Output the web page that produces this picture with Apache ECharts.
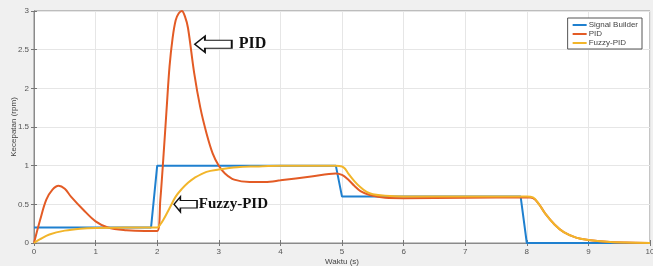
<!DOCTYPE html>
<html>
<head>
<meta charset="utf-8">
<script src="https://cdn.jsdelivr.net/npm/echarts@6/dist/echarts.min.js"></script>
<style>
html,body{margin:0;padding:0;background:#f0f0f0;}
#main{width:653px;height:266px;}
</style>
</head>
<body>
<div id="main"></div>
<script>
// Signal Builder (setpoint)
var sbT = [0, 1.9, 2.0, 4.9, 5.0, 7.9, 8.0, 10];
var sbY = [0.2, 0.2, 1, 1, 0.6, 0.6, 0, 0];

// PID
var pidT = [0, 0.1, 0.2, 0.3, 0.4, 0.5, 0.6, 0.8, 1.0, 1.2, 1.5, 1.8, 2.0, 2.05, 2.1, 2.15, 2.2, 2.25, 2.3, 2.35, 2.4, 2.45, 2.5, 2.6, 2.7, 2.8, 2.9, 3.0, 3.1, 3.25, 3.5, 3.75, 4.0, 4.5, 4.9, 5.0, 5.1, 5.2, 5.3, 5.45, 5.7, 6.0, 7.0, 8.0, 8.1, 8.2, 8.3, 8.45, 8.6, 8.8, 9.0, 9.3, 9.6, 10];
var pidY = [0, 0.3, 0.56, 0.69, 0.74, 0.7, 0.6, 0.43, 0.28, 0.2, 0.165, 0.155, 0.155, 0.55, 1.1, 1.7, 2.28, 2.65, 2.88, 2.97, 3.0, 2.93, 2.78, 2.2, 1.75, 1.42, 1.16, 1.0, 0.9, 0.82, 0.79, 0.79, 0.81, 0.86, 0.9, 0.88, 0.82, 0.74, 0.67, 0.62, 0.585, 0.58, 0.585, 0.59, 0.58, 0.5, 0.38, 0.24, 0.14, 0.07, 0.04, 0.015, 0.005, 0];

// Fuzzy-PID
var fzT = [0, 0.1, 0.25, 0.5, 0.75, 1.0, 1.5, 2.0, 2.05, 2.1, 2.2, 2.3, 2.4, 2.5, 2.6, 2.8, 3.0, 3.3, 3.6, 4.0, 4.9, 5.0, 5.05, 5.1, 5.2, 5.3, 5.4, 5.5, 5.7, 6.0, 7.0, 8.0, 8.1, 8.2, 8.3, 8.45, 8.6, 8.8, 9.0, 9.3, 9.6, 10];
var fzY = [0, 0.05, 0.11, 0.16, 0.185, 0.195, 0.2, 0.2, 0.24, 0.3, 0.45, 0.6, 0.7, 0.78, 0.84, 0.92, 0.95, 0.98, 0.99, 1.0, 1.0, 0.99, 0.96, 0.9, 0.8, 0.72, 0.66, 0.63, 0.61, 0.6, 0.6, 0.6, 0.59, 0.5, 0.38, 0.24, 0.14, 0.07, 0.04, 0.015, 0.005, 0];

var xTicks = [0, 1, 2, 3, 4, 5, 6, 7, 8, 9, 10];
var yTicks = [0, 0.5, 1, 1.5, 2, 2.5, 3];

function zip(t, y) {
    var out = [];
    for (var i = 0; i < t.length; i++) {
        out.push([t[i], y[i]]);
    }
    return out;
}

// hollow left arrow for the annotations
var arrowPath = 'path://M0,8 L11,0 L11,4 L40,4 L40,12 L11,12 L11,16 Z';

var myChart = echarts.init(document.getElementById('main'));

var tickStyle = {show: true, inside: true, length: 3, lineStyle: {color: '#777'}};
var lineAx = {show: true, lineStyle: {color: '#8a8a8a', width: 1}};

var option = {
    backgroundColor: '#f0f0f0',
    animation: false,
    textStyle: {fontFamily: 'Liberation Sans, Arial, sans-serif'},
    grid: {left: 34, right: 3, top: 11, bottom: 23, outerBoundsMode: 'none', containLabel: false,
        show: true, backgroundColor: '#fff', borderColor: '#8a8a8a', borderWidth: 1},
    legend: {
        right: 11,
        top: 18,
        orient: 'vertical',
        backgroundColor: '#fff',
        borderColor: '#555',
        borderWidth: 1,
        padding: [3, 4, 2, 5],
        itemGap: 1,
        itemWidth: 14,
        itemHeight: 2,
        icon: 'rect',
        textStyle: {fontSize: 8, color: '#444', padding: [0, 0, 0, -3]},
        data: ['Signal Builder', 'PID', 'Fuzzy-PID']
    },
    xAxis: [{
        type: 'value',
        min: 0,
        max: 10,
        interval: 1,
        name: 'Waktu (s)',
        nameLocation: 'middle',
        nameGap: 15,
        nameMoveOverlap: false,
        nameTextStyle: {fontSize: 8, color: '#444'},
        axisLine: lineAx,
        axisTick: tickStyle,
        axisLabel: {fontSize: 8, color: '#555', margin: 5},
        splitLine: {show: true, lineStyle: {color: '#e6e6e6'}}
    }, {
        type: 'value',
        position: 'top',
        min: 0,
        max: 10,
        interval: 1,
        axisLine: lineAx,
        axisTick: tickStyle,
        axisLabel: {show: false},
        splitLine: {show: false}
    }],
    yAxis: [{
        type: 'value',
        min: 0,
        max: 3,
        interval: 0.5,
        name: 'Kecepatan (rpm)',
        nameLocation: 'middle',
        nameGap: 16,
        nameMoveOverlap: false,
        nameTextStyle: {fontSize: 8, color: '#444'},
        axisLine: lineAx,
        axisTick: tickStyle,
        axisLabel: {fontSize: 8, color: '#555', margin: 5},
        splitLine: {show: true, lineStyle: {color: '#e6e6e6'}}
    }, {
        type: 'value',
        position: 'right',
        min: 0,
        max: 3,
        interval: 0.5,
        axisLine: lineAx,
        axisTick: tickStyle,
        axisLabel: {show: false},
        splitLine: {show: false}
    }],
    series: [
        {
            name: 'Signal Builder',
            type: 'line',
            data: zip(sbT, sbY),
            showSymbol: false,
            color: '#1f80cf',
            lineStyle: {width: 2}
        },
        {
            name: 'PID',
            type: 'line',
            data: zip(pidT, pidY),
            showSymbol: false,
            smooth: 0.35,
            color: '#e35b25',
            lineStyle: {width: 2},
            markPoint: {
                symbol: arrowPath,
                symbolSize: [37, 16],
                itemStyle: {color: '#fff', borderColor: '#111', borderWidth: 1.3},
                label: {
                    show: true,
                    position: 'right',
                    distance: 6,
                    formatter: 'PID',
                    fontFamily: 'Liberation Serif, Times New Roman, serif',
                    fontWeight: 'bold',
                    fontSize: 16,
                    color: '#111'
                },
                data: [{coord: [2.91, 2.57]}]
            }
        },
        {
            name: 'Fuzzy-PID',
            type: 'line',
            data: zip(fzT, fzY),
            showSymbol: false,
            smooth: 0.35,
            color: '#f2b52a',
            lineStyle: {width: 2},
            markPoint: {
                symbol: arrowPath,
                symbolSize: [23, 15],
                itemStyle: {color: '#fff', borderColor: '#111', borderWidth: 1.3},
                label: {
                    show: true,
                    position: 'right',
                    distance: 1,
                    formatter: 'Fuzzy-PID',
                    fontFamily: 'Liberation Serif, Times New Roman, serif',
                    fontWeight: 'bold',
                    fontSize: 15,
                    color: '#111'
                },
                data: [{coord: [2.46, 0.5]}]
            }
        }
    ]
};

myChart.setOption(option);
</script>
</body>
</html>
